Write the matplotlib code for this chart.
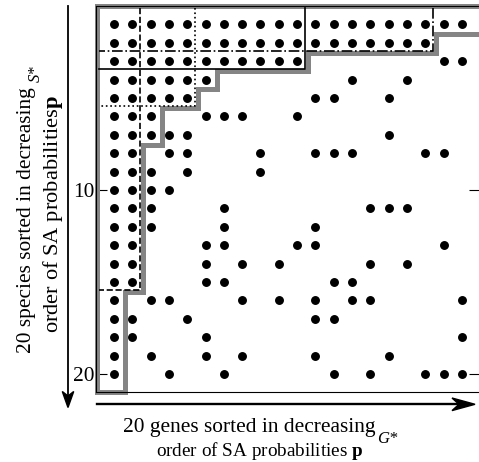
import matplotlib
matplotlib.use('Agg')
import matplotlib.pyplot as plt
from matplotlib.lines import Line2D
from matplotlib.patches import Polygon

plt.rcParams['font.family'] = ['Liberation Serif', 'DejaVu Serif']
plt.rcParams['mathtext.fontset'] = 'custom'
plt.rcParams['mathtext.rm'] = 'Liberation Serif'
plt.rcParams['mathtext.bf'] = 'Liberation Serif:bold'
plt.rcParams['mathtext.it'] = 'Liberation Serif:italic'

# ---------------- data ----------------
n_species = 20
n_genes = 20
# genes (columns) with a dot for each species row 1..20
row_cols = [
    list(range(1, 21)),
    list(range(1, 19)),
    list(range(1, 12)) + [19, 20],
    [1, 2, 3, 4, 5, 6, 14, 17],
    [1, 2, 3, 4, 5, 12, 13, 16],
    [1, 2, 3, 6, 7, 8, 11],
    [1, 2, 3, 4, 5, 16],
    [1, 2, 4, 5, 9, 12, 13, 14, 18, 19],
    [1, 2, 3, 5, 9],
    [1, 2, 3, 4],
    [1, 2, 3, 7, 15, 16, 17],
    [1, 2, 3, 7, 12],
    [1, 2, 6, 7, 11, 12, 19],
    [1, 2, 6, 8, 10, 15, 17],
    [1, 2, 6, 7, 13, 14],
    [1, 3, 4, 8, 10, 12, 14, 15, 20],
    [1, 2, 5, 12, 13],
    [1, 2, 6, 20],
    [1, 3, 6, 8, 12, 16],
    [1, 4, 7, 13, 15, 18, 19, 20],
]
# biclusters: number of top species rows, number of top gene columns
bic_rows = [15, 5, 2, 3]
bic_cols = [2, 5, 18, 11]
bic_styles = ['--', ':', '-.', '-']
# gray staircase: number of leading genes in dense block per species row
stair_cols = [20, 18, 11, 6, 5, 3, 3, 2, 2, 2, 2, 2, 2, 2, 2, 1, 1, 1, 1, 1]
ytick_vals = [10, 20]
ytick_labels = ['10', '20']

W, H = 479, 462
fig = plt.figure(figsize=(W / 100, H / 100), dpi=100)
ax = fig.add_axes([95.6 / W, (H - 392.3) / H, 384.7 / W, 386.4 / H])
ax.set_xlim(0, n_genes + 1)
ax.set_ylim(n_species + 1, 0)

# dots
xs, ys = [], []
for r, cols in enumerate(row_cols, start=1):
    for c in cols:
        xs.append(c)
        ys.append(r)
ax.plot(xs, ys, 'o', color='black', ms=5.4, mec='black', zorder=3)

# gray staircase outline
dx, dy = 0.1, 0.04
xl, yt, yb, xr = 0.1, 0.0, n_species + 1.0, n_genes + 1.5
pts = [(xl, yt)]
prev_y = yt
for i, c in enumerate(stair_cols):
    xpos = xr if c >= n_genes else c + 0.5 + dx
    ybot = yb if i == len(stair_cols) - 1 else i + 1.5 + dy
    pts.append((xpos, prev_y))
    pts.append((xpos, ybot))
    prev_y = ybot
pts.append((xl, yb))
pts.append((xl, yt))
gx, gy = zip(*pts)
ax.plot(gx, gy, color='#858585', lw=3.6, solid_joinstyle='miter',
        clip_on=False, zorder=2)

# bicluster boundaries
for r, c, ls in zip(bic_rows, bic_cols, bic_styles):
    xc = c + 0.5 - 0.07
    yc = r + 0.5 - 0.06
    ax.plot([xc, xc, 0.2], [0.12, yc, yc], color='black', ls=ls, lw=1.2,
            clip_on=False, zorder=4)

ax.set_xticks([])
ax.set_yticks(ytick_vals)
ax.set_yticklabels(ytick_labels)
ax.tick_params(axis='y', direction='in', length=8, width=0.8, left=True,
               right=True, labelsize=15.4, pad=0.5)
for s in ax.spines.values():
    s.set_linewidth(0.8)

# arrows (figure pixel layout)
def fx(px):
    return px / W

def fy(py):
    return (H - py) / H

fig.add_artist(Line2D([fx(68), fx(68)], [fy(6), fy(396)], color='black', lw=1.3))
fig.add_artist(Polygon([(fx(68), fy(407.5)), (fx(62.3), fy(391.5)),
                        (fx(68), fy(396)), (fx(73.7), fy(391.5))],
                       closed=True, color='black', transform=fig.transFigure))
fig.add_artist(Line2D([fx(96.7), fx(460)], [fy(404.3), fy(404.3)], color='black', lw=1.7))
fig.add_artist(Polygon([(fx(475), fy(404.3)), (fx(452), fy(398)),
                        (fx(459), fy(404.3)), (fx(452), fy(410.6))],
                       closed=True, color='black', transform=fig.transFigure))

# axis labels
fs = 15.4
fig.text(fx(123), fy(432), '20 genes sorted in decreasing', fontsize=fs,
         ha='left', va='baseline')
fig.text(fx(156), fy(456.5), r'order of SA probabilities $\mathbf{p}$', fontsize=13.8,
         ha='left', va='baseline')
fig.text(fx(377), fy(443), 'G*', fontsize=12, style='italic',
         ha='left', va='baseline')

fig.text(fx(31), fy(353), '20 species sorted in decreasing', fontsize=fs,
         rotation=90, rotation_mode='anchor', ha='left', va='baseline')
fig.text(fx(58), fy(333), r'order of SA probabilities$\mathbf{p}$', fontsize=16.2,
         rotation=90, rotation_mode='anchor', ha='left', va='baseline')
fig.text(fx(40), fy(82), 'S*', fontsize=12, style='italic', rotation=90,
         rotation_mode='anchor', ha='left', va='baseline')

fig.savefig('out.png', dpi=100)
